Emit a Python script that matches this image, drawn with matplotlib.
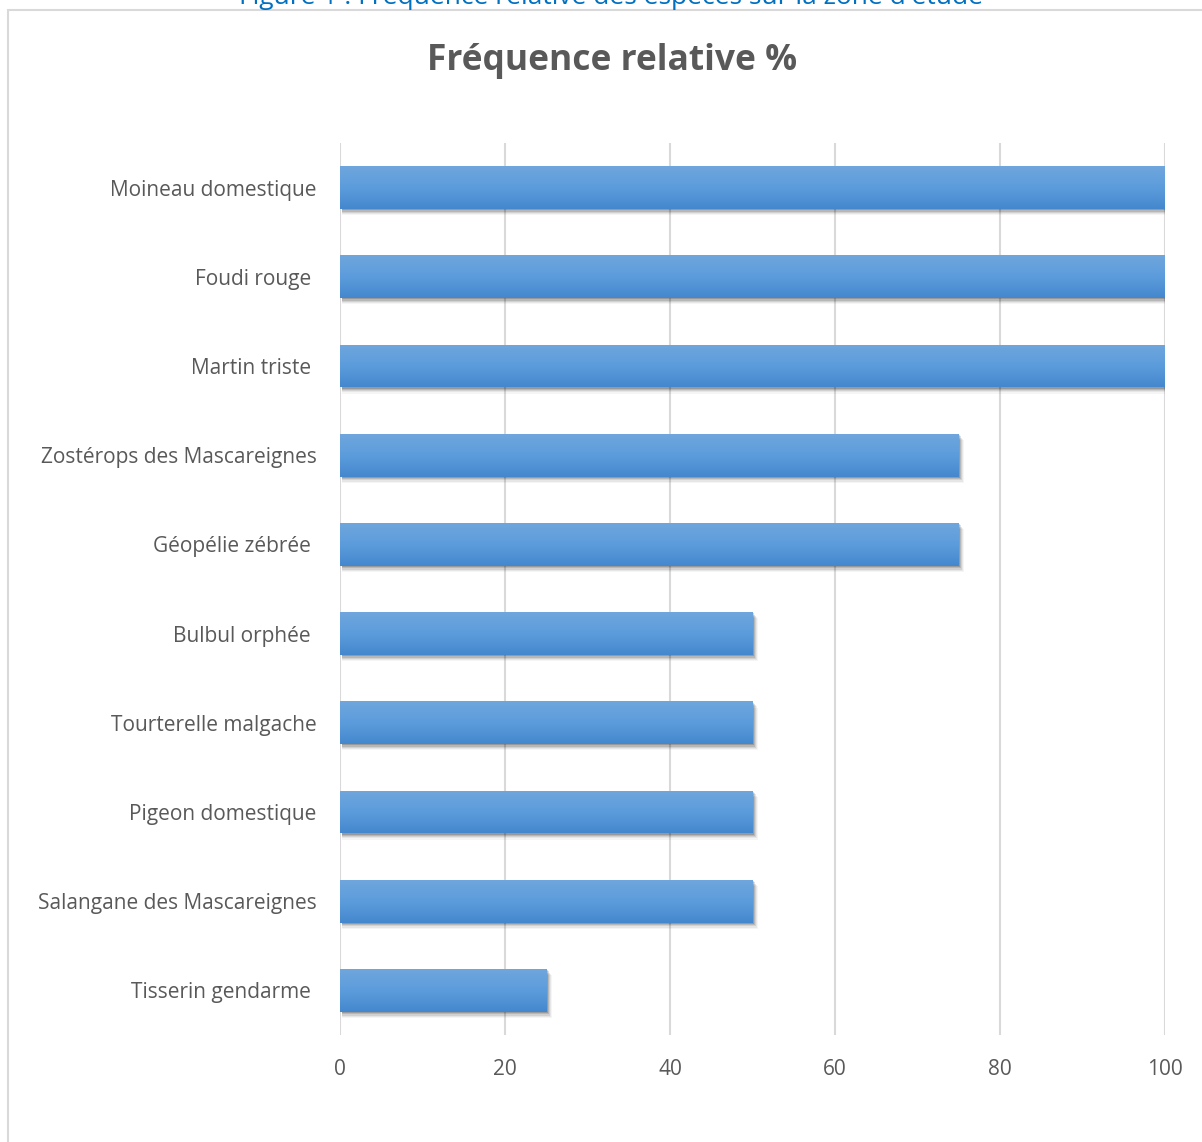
import matplotlib.pyplot as plt
import numpy as np
from matplotlib.patches import Rectangle
from matplotlib.colors import LinearSegmentedColormap

# Data (top to bottom as shown)
species = ["Moineau domestique", "Foudi rouge ", "Martin triste ",
           "Zostérops des Mascareignes", "Géopélie zébrée ", "Bulbul orphée ",
           "Tourterelle malgache", "Pigeon domestique",
           "Salangane des Mascareignes", "Tisserin gendarme "]
freq = [100, 100, 100, 75, 75, 50, 50, 50, 50, 25]
xticks = [0, 20, 40, 60, 80, 100]

plt.rcParams['font.family'] = ['Open Sans', 'DejaVu Sans']
text_col = "#595959"

W, H = 1202, 1142
fig = plt.figure(figsize=(W / 100, H / 100), dpi=100)

# chart area border (extends past the right and bottom edges)
fig.add_artist(Rectangle((8 / W, -0.1), 1.2, 1 - 10 / H + 0.1,
                         transform=fig.transFigure, fill=False,
                         edgecolor="#D9D9D9", linewidth=1.5))

# caption above the chart, clipped by the top edge as in the source
fig.text(611 / W, 1 + 3 / H, "Figure 1 : Fréquence relative des espèces sur la zone d'étude",
         ha="center", va="center", fontsize=19, color="#0070C0")

ax = fig.add_axes([340 / W, 1 - 1035 / H, (1165 - 340) / W, (1035 - 143) / H])

n = len(species)
y = np.arange(n)
bar_h = 0.48
cmap = LinearSegmentedColormap.from_list("bar", ["#4487CD", "#5C9CDC", "#6FA6DD"])
grad = np.linspace(0, 1, 100).reshape(-1, 1)

for yi, v in zip(y, freq):
    # soft shadow
    for k, a in zip(range(5), [0.16, 0.12, 0.09, 0.06, 0.04]):
        off = 0.014 * (k + 1)
        ax.add_patch(Rectangle((0.2, yi - bar_h / 2 + off), v + 0.12 * k, bar_h,
                               facecolor="black", alpha=a, edgecolor="none", zorder=2))
    rect = Rectangle((0, yi - bar_h / 2), v, bar_h, facecolor="none", edgecolor="none", zorder=3)
    ax.add_patch(rect)
    im = ax.imshow(grad, cmap=cmap, aspect="auto", origin="lower",
                   extent=[0, v, yi + bar_h / 2, yi - bar_h / 2], zorder=3)
    im.set_clip_path(rect)

ax.set_xlim(0, 100)
ax.set_ylim(n - 0.5, -0.5)
ax.set_xticks(xticks)
ax.set_yticks(y)
ax.set_yticklabels(species)
ax.tick_params(axis="both", length=0, labelsize=15, colors=text_col)
ax.tick_params(axis="y", pad=17)
ax.tick_params(axis="x", pad=17)
ax.grid(axis="x", color="#D9D9D9", linewidth=1.5, zorder=0)
ax.set_axisbelow(True)
for s in ax.spines.values():
    s.set_visible(False)

fig.text(612 / W, 1 - 61 / H, "Fréquence relative %", ha="center", va="center",
         fontsize=25.5, fontweight="bold", color=text_col)

fig.savefig("out.png", dpi=100)
